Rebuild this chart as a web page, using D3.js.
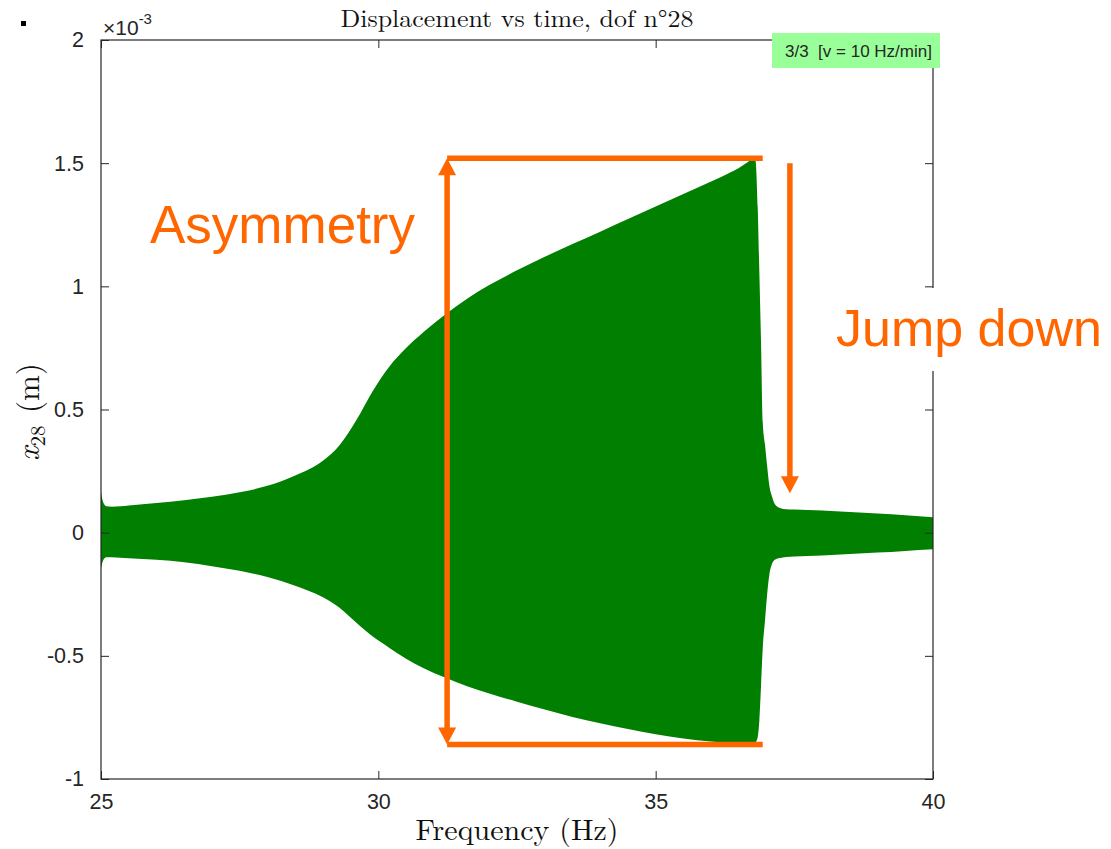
<!DOCTYPE html>
<html>
<head>
<meta charset="utf-8">
<script src="https://cdn.jsdelivr.net/npm/d3@7"></script>
<style>
  html, body { margin: 0; padding: 0; background: #fff; }
  svg { display: block; }
</style>
</head>
<body>
<svg id="chart" width="1111" height="849"></svg>
<script>
// ---- data (displacement in units of 1e-3 m) ----
const freq = [25.0, 25.02, 25.05, 25.1, 25.2, 25.5, 26.0, 26.5, 27.0, 27.5, 28.0, 28.5, 29.0, 29.3, 29.6, 29.9,
  30.2, 30.5, 30.8, 31.2, 31.6, 32.0, 32.5, 33.0, 33.5, 34.0, 34.5, 35.0, 35.5, 36.0, 36.3, 36.5, 36.65, 36.75,
  36.8, 36.84, 36.87, 36.9, 36.93, 36.97, 37.01, 37.05, 37.1, 37.15, 37.24, 37.35, 37.5, 38.0, 38.5, 39.0, 39.5, 40.0];
const upperEnv = [0.165, 0.14, 0.118, 0.107, 0.105, 0.110, 0.120, 0.132, 0.146, 0.164, 0.19, 0.232, 0.292, 0.355, 0.455, 0.575,
  0.675, 0.75, 0.812, 0.885, 0.95, 1.005, 1.065, 1.12, 1.172, 1.222, 1.273, 1.324, 1.375, 1.426, 1.457, 1.48, 1.503, 1.516,
  1.51, 1.32, 1.05, 0.77, 0.45, 0.36, 0.27, 0.19, 0.145, 0.115, 0.10, 0.095, 0.094, 0.09, 0.084, 0.078, 0.071, 0.063];
const lowerEnv = [-0.144, -0.125, -0.108, -0.1, -0.1, -0.104, -0.11, -0.12, -0.136, -0.155, -0.18, -0.215, -0.262, -0.305, -0.365, -0.422,
  -0.468, -0.512, -0.548, -0.588, -0.623, -0.653, -0.686, -0.718, -0.748, -0.774, -0.797, -0.818, -0.836, -0.848, -0.853, -0.856, -0.857, -0.856,
  -0.852, -0.83, -0.76, -0.62, -0.47, -0.36, -0.25, -0.17, -0.125, -0.11, -0.103, -0.099, -0.097, -0.093, -0.087, -0.081, -0.074, -0.067];

const xTicks = [25, 30, 35, 40];
const xTickLabels = ["25", "30", "35", "40"];
const yTicks = [-1, -0.5, 0, 0.5, 1, 1.5, 2];
const yTickLabels = ["-1", "-0.5", "0", "0.5", "1", "1.5", "2"];

// annotation anchors (data coordinates)
const boxFreq = [31.24, 36.93];      // orange bracket horizontal extent
const boxVal = [1.52, -0.86];        // top / bottom of bracket
const jumpFreq = [37.42];
const jumpVal = [1.50, 0.16];        // start / tip of the jump-down arrow

// ---- layout ----
const svg = d3.select("#chart");
const pLeft = 101, pRight = 933, pTop = 40, pBottom = 779;
const x = d3.scaleLinear().domain([25, 40]).range([pLeft, pRight]);
const y = d3.scaleLinear().domain([-1, 2]).range([pBottom, pTop]);
const axisColor = "#262626";
const orange = "#FF6600";
const sans = "'Liberation Sans', Arial, Helvetica, sans-serif";
const serif = "'Latin Modern Roman', 'DejaVu Serif', 'Liberation Serif', serif";

// tiny bullet square at top left
svg.append("rect").attr("x", 21).attr("y", 21).attr("width", 5).attr("height", 5).attr("fill", "#000");

// ---- envelope ----
const data = freq.map((f, i) => ({ f, hi: upperEnv[i], lo: lowerEnv[i] }));
svg.append("path")
  .datum(data)
  .attr("fill", "#007F00")
  .attr("d", d3.area()
    .x(d => x(d.f))
    .y0(d => y(d.lo))
    .y1(d => y(d.hi))
    .curve(d3.curveMonotoneX));

// ---- axes ----
function styleAxis(g) {
  g.selectAll(".domain").remove();
  g.selectAll(".tick line").attr("stroke", axisColor).attr("stroke-width", 1);
  g.selectAll(".tick text").attr("fill", axisColor).attr("font-family", sans).attr("font-size", 21.5);
}
svg.append("g").attr("transform", `translate(0,${pBottom})`)
  .call(d3.axisBottom(x).tickValues(xTicks).tickFormat((d, i) => xTickLabels[i]).tickSizeInner(-8).tickSizeOuter(0).tickPadding(15))
  .call(styleAxis);
svg.append("g").attr("transform", `translate(0,${pTop})`)
  .call(d3.axisTop(x).tickValues(xTicks).tickFormat("").tickSizeInner(-8).tickSizeOuter(0))
  .call(styleAxis);
svg.append("g").attr("transform", `translate(${pLeft},0)`)
  .call(d3.axisLeft(y).tickValues(yTicks).tickFormat((d, i) => yTickLabels[i]).tickSizeInner(-8).tickSizeOuter(0).tickPadding(17))
  .call(styleAxis);
svg.append("g").attr("transform", `translate(${pRight},0)`)
  .call(d3.axisRight(y).tickValues(yTicks).tickFormat("").tickSizeInner(-8).tickSizeOuter(0))
  .call(styleAxis);
svg.append("rect")
  .attr("x", pLeft).attr("y", pTop).attr("width", pRight - pLeft).attr("height", pBottom - pTop)
  .attr("fill", "none").attr("stroke", axisColor).attr("stroke-width", 1.2);

// exponent label
const ex = svg.append("text").attr("x", 103).attr("y", 35).attr("fill", axisColor)
  .attr("font-family", sans).attr("font-size", 21);
ex.append("tspan").text("\u00D710");
ex.append("tspan").attr("font-size", 15).attr("dy", -11).text("-3");

// title
svg.append("text").attr("x", (pLeft + pRight) / 2).attr("y", 27)
  .attr("text-anchor", "middle").attr("font-family", serif).attr("font-size", 24).attr("fill", "#111")
  .attr("textLength", 353).attr("lengthAdjust", "spacingAndGlyphs")
  .text("Displacement vs time, dof n\u00B028");

// x label
svg.append("text").attr("x", (pLeft + pRight) / 2).attr("y", 840)
  .attr("text-anchor", "middle").attr("font-family", serif).attr("font-size", 29).attr("fill", "#111")
  .attr("textLength", 203).attr("lengthAdjust", "spacingAndGlyphs")
  .text("Frequency (Hz)");

// y label
const yl = svg.append("text")
  .attr("transform", "translate(39,412) rotate(-90)")
  .attr("text-anchor", "middle").attr("font-family", serif).attr("font-size", 31).attr("fill", "#111");
yl.append("tspan").attr("font-style", "italic").text("x");
yl.append("tspan").attr("font-size", 21).attr("dy", 6).text("28");
yl.append("tspan").attr("dy", -6).text("\u2009\u2009(m)");

// ---- orange annotations ----
const ann = svg.append("g");
const lw = 5.5;
boxVal.forEach(v => {
  ann.append("line").attr("x1", x(boxFreq[0])).attr("x2", x(boxFreq[1]))
    .attr("y1", y(v)).attr("y2", y(v)).attr("stroke", orange).attr("stroke-width", lw);
});
const ax = x(boxFreq[0]), aTop = y(boxVal[0]), aBot = y(boxVal[1]);
const hl = 17, hw = 9;
ann.append("line").attr("x1", ax).attr("x2", ax).attr("y1", aTop + hl - 2).attr("y2", aBot - hl + 2)
  .attr("stroke", orange).attr("stroke-width", lw);
ann.append("path").attr("fill", orange)
  .attr("d", `M${ax},${aTop} L${ax - hw},${aTop + hl} L${ax + hw},${aTop + hl} Z`);
ann.append("path").attr("fill", orange)
  .attr("d", `M${ax},${aBot} L${ax - hw},${aBot - hl} L${ax + hw},${aBot - hl} Z`);
const jx = x(jumpFreq[0]), jTop = y(jumpVal[0]), jTip = y(jumpVal[1]);
ann.append("line").attr("x1", jx).attr("x2", jx).attr("y1", jTop).attr("y2", jTip - hl + 2)
  .attr("stroke", orange).attr("stroke-width", lw);
ann.append("path").attr("fill", orange)
  .attr("d", `M${jx},${jTip} L${jx - hw},${jTip - hl} L${jx + hw},${jTip - hl} Z`);

// Asymmetry text
svg.append("text").attr("x", 150).attr("y", 243)
  .attr("font-family", sans).attr("font-size", 53).attr("fill", orange).text("Asymmetry");

// Jump down text with white background
svg.append("rect").attr("x", 828).attr("y", 288).attr("width", 283).attr("height", 83).attr("fill", "#fff");
svg.append("text").attr("x", 836).attr("y", 346)
  .attr("font-family", sans).attr("font-size", 52).attr("fill", orange).text("Jump down");

// green info label
svg.append("rect").attr("x", 772).attr("y", 33).attr("width", 168).attr("height", 35).attr("fill", "#99FF99");
svg.append("text").attr("x", 785).attr("y", 57).style("white-space", "pre")
  .attr("font-family", sans).attr("font-size", 17).attr("fill", "#262626")
  .text("3/3  [v = 10 Hz/min]");
</script>
</body>
</html>
